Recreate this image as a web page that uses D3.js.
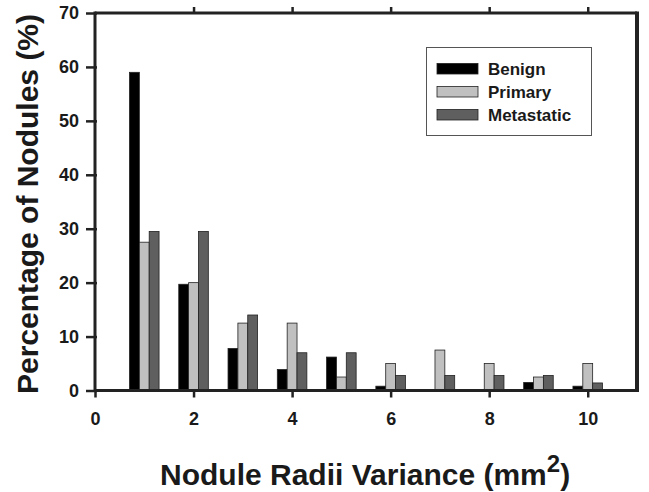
<!DOCTYPE html>
<html>
<head>
<meta charset="utf-8">
<script src="https://cdn.jsdelivr.net/npm/d3@7"></script>
<style>
  body { margin: 0; background: #fff; }
  text { font-family: "Liberation Sans", Arial, sans-serif; font-weight: bold; fill: #1a1a1a; }
</style>
</head>
<body>
<svg id="chart" width="649" height="492"></svg>
<script>
// data
var bins = [1, 2, 3, 4, 5, 6, 7, 8, 9, 10];
var seriesNames = ["Benign", "Primary", "Metastatic"];
var benign = [59, 19.7, 7.8, 3.9, 6.2, 0.8, 0, 0, 1.5, 0.8];
var primary = [27.5, 20, 12.5, 12.5, 2.5, 5, 7.5, 5, 2.5, 5];
var metastatic = [29.5, 29.5, 14, 7, 7, 2.8, 2.8, 2.8, 2.8, 1.4];
var xTicks = [0, 2, 4, 6, 8, 10];
var yTicks = [0, 10, 20, 30, 40, 50, 60, 70];
var fills = ["#000000", "#c0c0c0", "#5f5f5f"];

var svg = d3.select("#chart");
var plotL = 95, plotR = 637, plotT = 13, plotB = 390.5;

var x = d3.scaleLinear().domain([0, 11]).range([plotL, plotR]);
var y = d3.scaleLinear().domain([0, 70]).range([plotB, plotT]);
var barW = 0.2;

var series = [benign, primary, metastatic];

// bars
series.forEach(function (vals, s) {
    svg.append("g").selectAll("rect")
        .data(bins)
        .enter()
        .append("rect")
        .attr("x", function (d) { return x(d + (s - 1.5) * barW); })
        .attr("width", x(barW) - x(0))
        .attr("y", function (d, i) { return y(vals[i]); })
        .attr("height", function (d, i) { return y(0) - y(vals[i]); })
        .attr("fill", fills[s])
        .attr("stroke", "#222")
        .attr("stroke-width", 0.8);
});

// axes
var xAxis = svg.append("g")
    .attr("transform", "translate(0," + plotB + ")")
    .call(d3.axisBottom(x).tickValues(xTicks).tickSize(7).tickSizeOuter(0).tickPadding(15));
var xTop = svg.append("g")
    .attr("transform", "translate(0," + plotT + ")")
    .call(d3.axisTop(x).tickValues(xTicks.slice(1)).tickSize(6).tickSizeOuter(0).tickFormat(""));
var yAxis = svg.append("g")
    .attr("transform", "translate(" + plotL + ",0)")
    .call(d3.axisLeft(y).tickValues(yTicks).tickSize(8).tickSizeOuter(0).tickPadding(8));

[xAxis, xTop, yAxis].forEach(function (g) {
    g.select(".domain").remove();
    g.attr("font-family", null).attr("font-size", null);
    g.selectAll(".tick line").attr("stroke", "#222").attr("stroke-width", 2.5);
    g.selectAll(".tick text").style("font-size", "18px").attr("fill", "#1a1a1a");
});
yAxis.selectAll(".tick line").attr("x2", -9).attr("x1", 2);

// frame
svg.append("line").attr("x1", plotL).attr("x2", plotR).attr("y1", plotB).attr("y2", plotB)
    .attr("stroke", "#222").attr("stroke-width", 3);
svg.append("line").attr("x1", plotL).attr("x2", plotR).attr("y1", plotT).attr("y2", plotT)
    .attr("stroke", "#222").attr("stroke-width", 3);
svg.append("line").attr("x1", plotL).attr("x2", plotL).attr("y1", plotT - 1.5).attr("y2", plotB + 1.5)
    .attr("stroke", "#222").attr("stroke-width", 3);
svg.append("line").attr("x1", plotR).attr("x2", plotR).attr("y1", plotT - 1.5).attr("y2", plotB + 1.5)
    .attr("stroke", "#222").attr("stroke-width", 4);

// axis titles
var xt = svg.append("text")
    .attr("x", 160)
    .attr("y", 485)
    .style("font-size", "30px");
xt.append("tspan").text("Nodule Radii Variance (mm");
xt.append("tspan").attr("dy", -13).style("font-size", "24px").text("2");
xt.append("tspan").attr("dy", 13).text(")");

svg.append("text")
    .attr("transform", "translate(38,204) rotate(-90)")
    .attr("text-anchor", "middle")
    .style("font-size", "30px")
    .text("Percentage of Nodules (%)");

// legend
var lg = svg.append("g");
lg.append("rect")
    .attr("x", 426.5).attr("y", 47.5).attr("width", 165).attr("height", 88)
    .attr("fill", "#fff").attr("stroke", "#555").attr("stroke-width", 1);
seriesNames.forEach(function (name, s) {
    var cy = 68.7 + s * 23;
    lg.append("rect")
        .attr("x", 437).attr("y", cy - 5.3).attr("width", 41).attr("height", 10.6)
        .attr("fill", fills[s]).attr("stroke", "#222").attr("stroke-width", 0.8);
    lg.append("text")
        .attr("x", 488).attr("y", cy + 6)
        .style("font-size", "17px")
        .text(name);
});
</script>
</body>
</html>
